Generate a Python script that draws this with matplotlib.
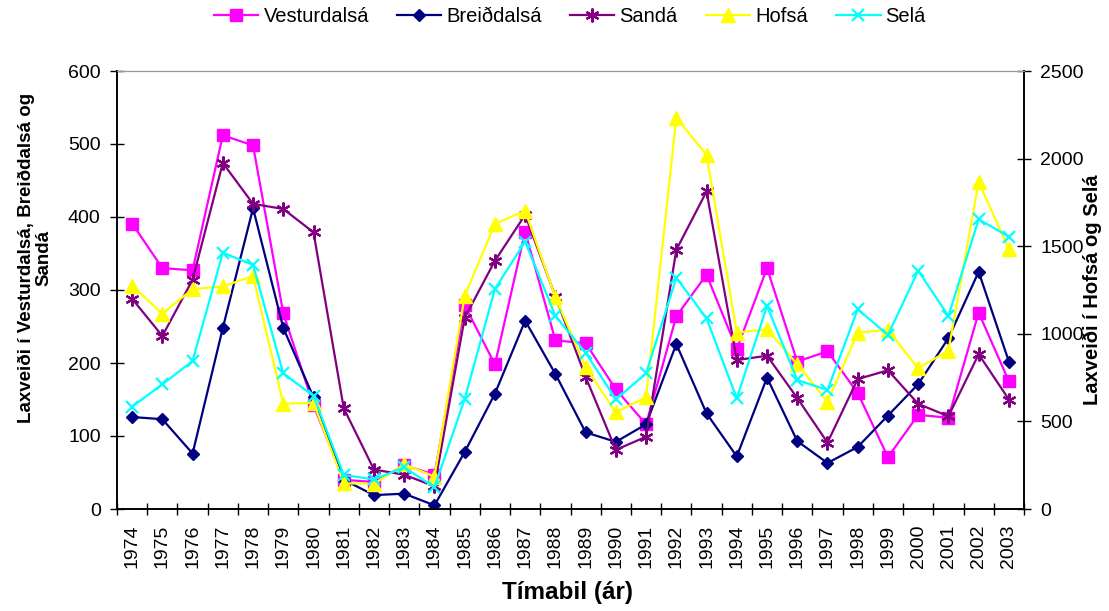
import matplotlib
matplotlib.use("Agg")
import matplotlib.pyplot as plt

plt.rcParams['font.family'] = ['Liberation Sans', 'DejaVu Sans']

years = [str(y) for y in range(1974, 2004)]

vesturdalsa = [391, 330, 327, 512, 498, 268, 142, 40, 37, 60, 47, 279, 198, 380, 231,
               227, 164, 116, 264, 321, 219, 330, 202, 216, 159, 71, 129, 125, 269, 175]
breiddalsa = [126, 123, 76, 248, 412, 248, 153, 40, 19, 21, 5, 78, 158, 258, 185,
              105, 92, 116, 226, 131, 72, 180, 93, 63, 85, 128, 171, 234, 325, 202]
sanda = [288, 237, 314, 474, 418, 411, 379, 138, 54, 47, 31, 262, 340, 403, 291,
         181, 81, 99, 355, 435, 204, 210, 152, 91, 178, 190, 144, 127, 212, 150]
hofsa = [1275, 1115, 1255, 1270, 1330, 600, 607, 147, 143, 255, 185, 1216, 1627, 1703, 1208,
         809, 552, 638, 2234, 2021, 1007, 1026, 826, 613, 1007, 1022, 803, 904, 1868, 1482]
sela = [584, 712, 845, 1463, 1393, 774, 645, 194, 169, 238, 124, 628, 1256, 1526, 1102,
        892, 626, 774, 1320, 1088, 632, 1159, 736, 679, 1140, 993, 1360, 1102, 1654, 1554]

names = ['Vesturdalsá', 'Breiðdalsá', 'Sandá', 'Hofsá', 'Selá']
colors = ['#FF00FF', '#000080', '#800080', '#FFFF00', '#00FFFF']

W, H = 1109, 611
fig = plt.figure(figsize=(W/100, H/100), dpi=100)
ax = fig.add_axes([117/W, 1-509/H, (1024-117)/W, (509-71)/H])
ax2 = ax.twinx()

x = list(range(len(years)))
lw = 1.6
h1, = ax.plot(x, vesturdalsa, color=colors[0], lw=lw, marker='s', ms=8.5, mec=colors[0])
h2, = ax.plot(x, breiddalsa, color=colors[1], lw=lw, marker='D', ms=6.5, mec=colors[1])
h3, = ax.plot(x, sanda, color=colors[2], lw=lw, marker=(6, 2, 0), ms=10, mew=1.6, mec=colors[2])
h4, = ax2.plot(x, hofsa, color=colors[3], lw=lw, marker='^', ms=10, mec=colors[3])
h5, = ax2.plot(x, sela, color=colors[4], lw=lw, marker='x', ms=9, mew=1.6, mec=colors[4])

ax.set_xlim(-0.5, len(years) - 0.5)
ax.set_ylim(0, 600)
ax2.set_ylim(0, 2500)
ax.set_yticks(range(0, 601, 100))
ax2.set_yticks(range(0, 2501, 500))

ax.set_xticks(x)
ax.set_xticklabels(years, rotation=90, fontsize=14)
ax.set_xticks([i - 0.5 for i in range(len(years) + 1)], minor=True)
ax.tick_params(axis='x', which='major', length=0, pad=11.5)
ax.tick_params(axis='x', which='minor', length=9, direction='inout', width=1)
ax.tick_params(axis='y', labelsize=14, length=9.5, direction='inout', width=1, pad=7)
ax2.tick_params(axis='y', labelsize=14, length=9.5, direction='inout', width=1, pad=7)

for a in (ax, ax2):
    a.spines['top'].set_color('#999999')
    for s in ('left', 'right', 'bottom'):
        a.spines[s].set_color('black')
        a.spines[s].set_linewidth(1.2)

fig.text(35/W, 1-258/H, 'Laxveiði í Vesturdalsá, Breiðdalsá og\nSandá', fontsize=13.5,
         fontweight='bold', rotation=90, ha='center', va='center', multialignment='center',
         linespacing=1.05)
fig.text(1092/W, 1-290/H, 'Laxveiði í Hofsá og Selá', fontsize=14.5, fontweight='bold',
         rotation=90, ha='center', va='center')
fig.text(568/W, 1-592/H, 'Tímabil (ár)', fontsize=17.5, fontweight='bold',
         ha='center', va='center')

fig.legend([h1, h2, h3, h4, h5], names, loc='center', bbox_to_anchor=(570/W, 1-17/H),
           ncol=5, frameon=False, fontsize=14.5, handlelength=2.2, columnspacing=1.4,
           handletextpad=0.25)

fig.savefig('out.png', dpi=100)
